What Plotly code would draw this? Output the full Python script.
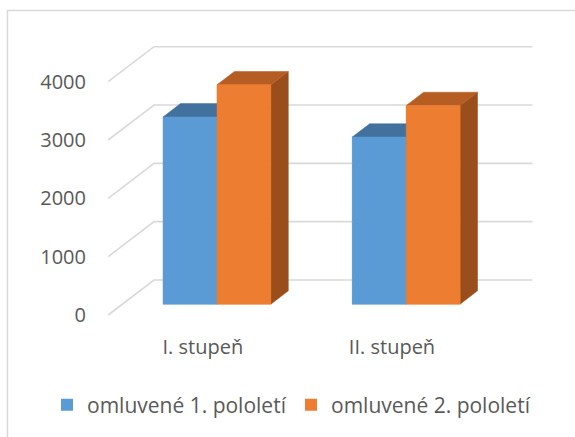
import plotly.graph_objects as go

categories = ["I. stupeň", "II. stupeň"]
series_names = ["omluvené 1. pololetí", "omluvené 2. pololetí"]
values_1 = [3210, 2865]
values_2 = [3760, 3405]
y_ticks = [0, 1000, 2000, 3000, 4000]

front_colors = ["#5B9BD5", "#ED7D31"]
top_colors = ["#41719C", "#B55D22"]
side_colors = ["#3A6690", "#9A4E1C"]
grid_color = "#D9D9D9"
text_color = "#595959"
font = "Open Sans"

# oblique 3d projection: depth 0 = front wall, 1 = back wall
DX, DY = 0.242, 600
bar_d0, bar_d1 = 0.31, 0.69
bar_w = 0.285


def proj(x, v, d):
    return x + d * DX, v + d * DY


fig = go.Figure()

# legend/base bars (front faces)
for k, vals in enumerate([values_1, values_2]):
    xs = [i + (k - 1) * bar_w + bar_d0 * DX for i in range(len(categories))]
    fig.add_trace(go.Bar(
        x=xs, y=list(vals), base=[bar_d0 * DY] * len(vals),
        width=bar_w, offset=0, name=series_names[k],
        marker=dict(color=front_colors[k], line=dict(width=0)),
        hoverinfo="skip"))

# gridlines: side wall diagonals + back wall horizontals
gx, gy = [], []
x_left, x_right = -0.5, len(categories) - 0.5
for t in y_ticks:
    p0 = proj(x_left, t, 0)
    p1 = proj(x_left, t, 1)
    p2 = proj(x_right, t, 1)
    gx += [p0[0], p1[0], p2[0], None]
    gy += [p0[1], p1[1], p2[1], None]
fig.add_trace(go.Scatter(x=gx, y=gy, mode="lines", showlegend=False,
                         line=dict(color=grid_color, width=1.6), hoverinfo="skip"))

# 3d faces, drawn left to right
for i in range(len(categories)):
    for k, vals in enumerate([values_1, values_2]):
        v = vals[i]
        xl = i + (k - 1) * bar_w
        xr = xl + bar_w
        faces = [
            ([(xr, 0, bar_d0), (xr, v, bar_d0), (xr, v, bar_d1), (xr, 0, bar_d1)], side_colors[k]),
            ([(xl, v, bar_d0), (xr, v, bar_d0), (xr, v, bar_d1), (xl, v, bar_d1)], top_colors[k]),
            ([(xl, 0, bar_d0), (xr, 0, bar_d0), (xr, v, bar_d0), (xl, v, bar_d0)], front_colors[k]),
        ]
        for pts, col in faces:
            pp = [proj(*p) for p in pts]
            fig.add_trace(go.Scatter(
                x=[p[0] for p in pp] + [pp[0][0]], y=[p[1] for p in pp] + [pp[0][1]],
                mode="lines", fill="toself", fillcolor=col,
                line=dict(color=col, width=0.5), showlegend=False, hoverinfo="skip"))

# pixel layout
W, H = 575, 437
px_per_x = 189.2
x_org = 202.8           # pixel of x=0
px_per_v = 0.05833
y_org = 315             # pixel of v=0
left, right, top, bottom = 98, 545, 40, 325
xr0 = (left - x_org) / px_per_x
xr1 = (right - x_org) / px_per_x
yr0 = (y_org - bottom) / px_per_v
yr1 = (y_org - top) / px_per_v
pw, ph = right - left, bottom - top

fig.update_layout(
    width=W, height=H,
    margin=dict(l=left, r=W - right, t=top, b=H - bottom, pad=0),
    paper_bgcolor="white", plot_bgcolor="white",
    barmode="overlay",
    font=dict(family=font, size=20, color=text_color),
    xaxis=dict(range=[xr0, xr1], tickvals=list(range(len(categories))), ticktext=categories,
               showgrid=False, zeroline=False, showline=False, ticks="",
               ticklabelstandoff=8, fixedrange=True),
    yaxis=dict(range=[yr0, yr1], tickvals=y_ticks, showgrid=False, zeroline=False,
               showline=False, ticks="", ticklabelstandoff=11, fixedrange=True),
    legend=dict(orientation="h", x=(47 - left) / pw, xanchor="left",
                y=(bottom - 405) / ph, yanchor="middle",
                font=dict(size=21, color=text_color), bgcolor="rgba(0,0,0,0)",
                traceorder="normal", entrywidth=199, entrywidthmode="pixels"),
    showlegend=True,
    shapes=[dict(type="rect", xref="paper", yref="paper",
                 x0=(7.5 - left) / pw, x1=(W + 5 - left) / pw,
                 y0=(bottom - H - 5) / ph, y1=(bottom - 10.5) / ph,
                 line=dict(color=grid_color, width=1.5), layer="below")],
)

fig.write_html("out.html", config={"displayModeBar": False},
               post_script="document.body.style.margin='0';")
